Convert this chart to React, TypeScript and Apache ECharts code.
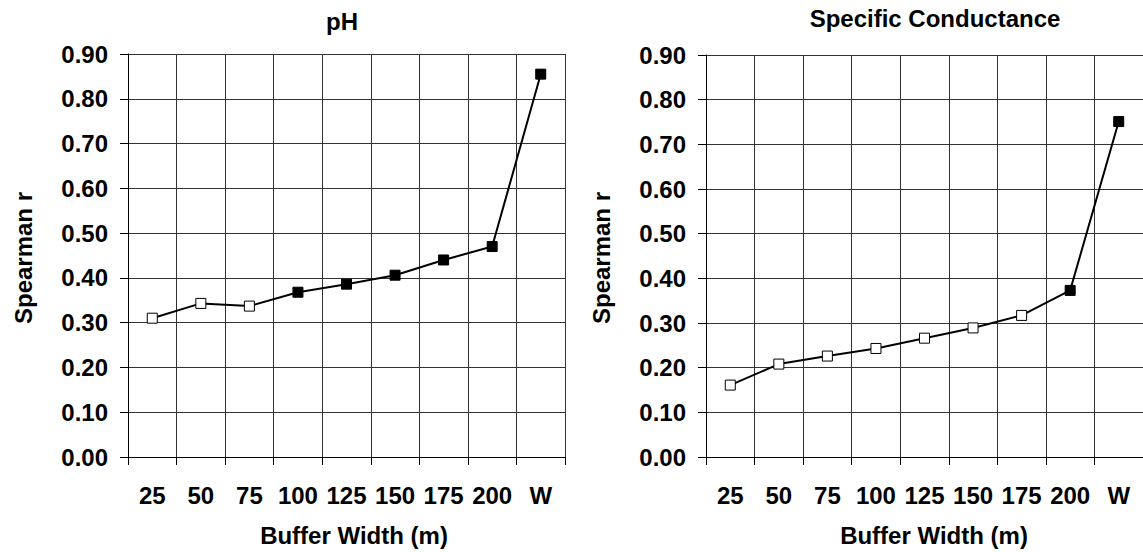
import React, { useEffect, useRef } from "react";
import * as echarts from "echarts";

const categories = ["25", "50", "75", "100", "125", "150", "175", "200", "W"];
const phValues = [0.31, 0.343, 0.337, 0.368, 0.386, 0.406, 0.44, 0.47, 0.855];
const phSignificant = [false, false, false, true, true, true, true, true, true];
const condValues = [0.161, 0.208, 0.226, 0.243, 0.266, 0.289, 0.317, 0.373, 0.751];
const condSignificant = [false, false, false, false, false, false, false, true, true];
const titles = ["pH", "Specific Conductance"];
const xName = "Buffer Width (m)";
const yName = "Spearman r";

const FONT = "'Liberation Sans', Arial, Helvetica, sans-serif";
const FS = 24;

export default function App() {
  const ref = useRef<HTMLDivElement>(null);
  useEffect(() => {
    if (!ref.current) return;
    const chart = echarts.init(ref.current, undefined, { renderer: "svg" });
    const grids = [
      { left: 128, top: 54, width: 437, height: 403 },
      { left: 706, top: 55, width: 443, height: 402 },
    ];
    const mkX = (i: number) => ({
      type: "category",
      gridIndex: i,
      data: categories,
      boundaryGap: true,
      axisLine: { show: true, lineStyle: { color: "#000", width: 1 } },
      axisTick: { show: true, inside: false, length: 8, alignWithLabel: false, interval: 0, lineStyle: { color: "#000" } },
      axisLabel: { interval: 0, margin: 26, color: "#000", fontFamily: FONT, fontWeight: "bold", fontSize: FS },
      splitLine: { show: true, interval: 0, lineStyle: { color: "#333", width: 1 } },
    });
    const mkY = (i: number) => ({
      type: "value",
      gridIndex: i,
      min: 0,
      max: 0.9,
      interval: 0.1,
      axisLine: { show: true, lineStyle: { color: "#000", width: 1 } },
      axisTick: { show: true, inside: false, length: 8, lineStyle: { color: "#000" } },
      axisLabel: {
        margin: 20,
        color: "#000",
        fontFamily: FONT,
        fontWeight: "bold",
        fontSize: FS,
        formatter: (v: number) => v.toFixed(2),
      },
      splitLine: { show: true, lineStyle: { color: "#333", width: 1 } },
    });
    const mkData = (vals: number[], sig: boolean[]) =>
      vals.map((v, k) => ({
        value: v,
        itemStyle: { color: sig[k] ? "#000" : "#fff", borderColor: "#000", borderWidth: 1 },
      }));
    const mkSeries = (i: number, vals: number[], sig: boolean[]) => ({
      type: "line",
      xAxisIndex: i,
      yAxisIndex: i,
      data: mkData(vals, sig),
      symbol: "rect",
      symbolSize: 10,
      lineStyle: { color: "#000", width: 2 },
      z: 5,
    });
    const txt = (x: number, y: number, text: string, rotation = 0) => ({
      type: "text",
      x,
      y,
      rotation,
      style: {
        text,
        fill: "#000",
        font: `bold ${FS}px ${FONT}`,
        align: "center",
        verticalAlign: "middle",
      },
    });
    chart.setOption({
      animation: false,
      backgroundColor: "#fff",
      grid: grids,
      xAxis: [mkX(0), mkX(1)],
      yAxis: [mkY(0), mkY(1)],
      series: [mkSeries(0, phValues, phSignificant), mkSeries(1, condValues, condSignificant)],
      graphic: [
        txt(342, 21.5, titles[0]),
        txt(935, 18, titles[1]),
        txt(354, 535, xName),
        txt(934, 535, xName),
        txt(23.5, 258, yName, Math.PI / 2),
        txt(601, 258, yName, Math.PI / 2),
      ],
    });
    return () => chart.dispose();
  }, []);
  return (
    <div
      ref={ref}
      style={{ position: "fixed", left: 0, top: 0, width: 1143, height: 552, background: "#fff" }}
    />
  );
}
